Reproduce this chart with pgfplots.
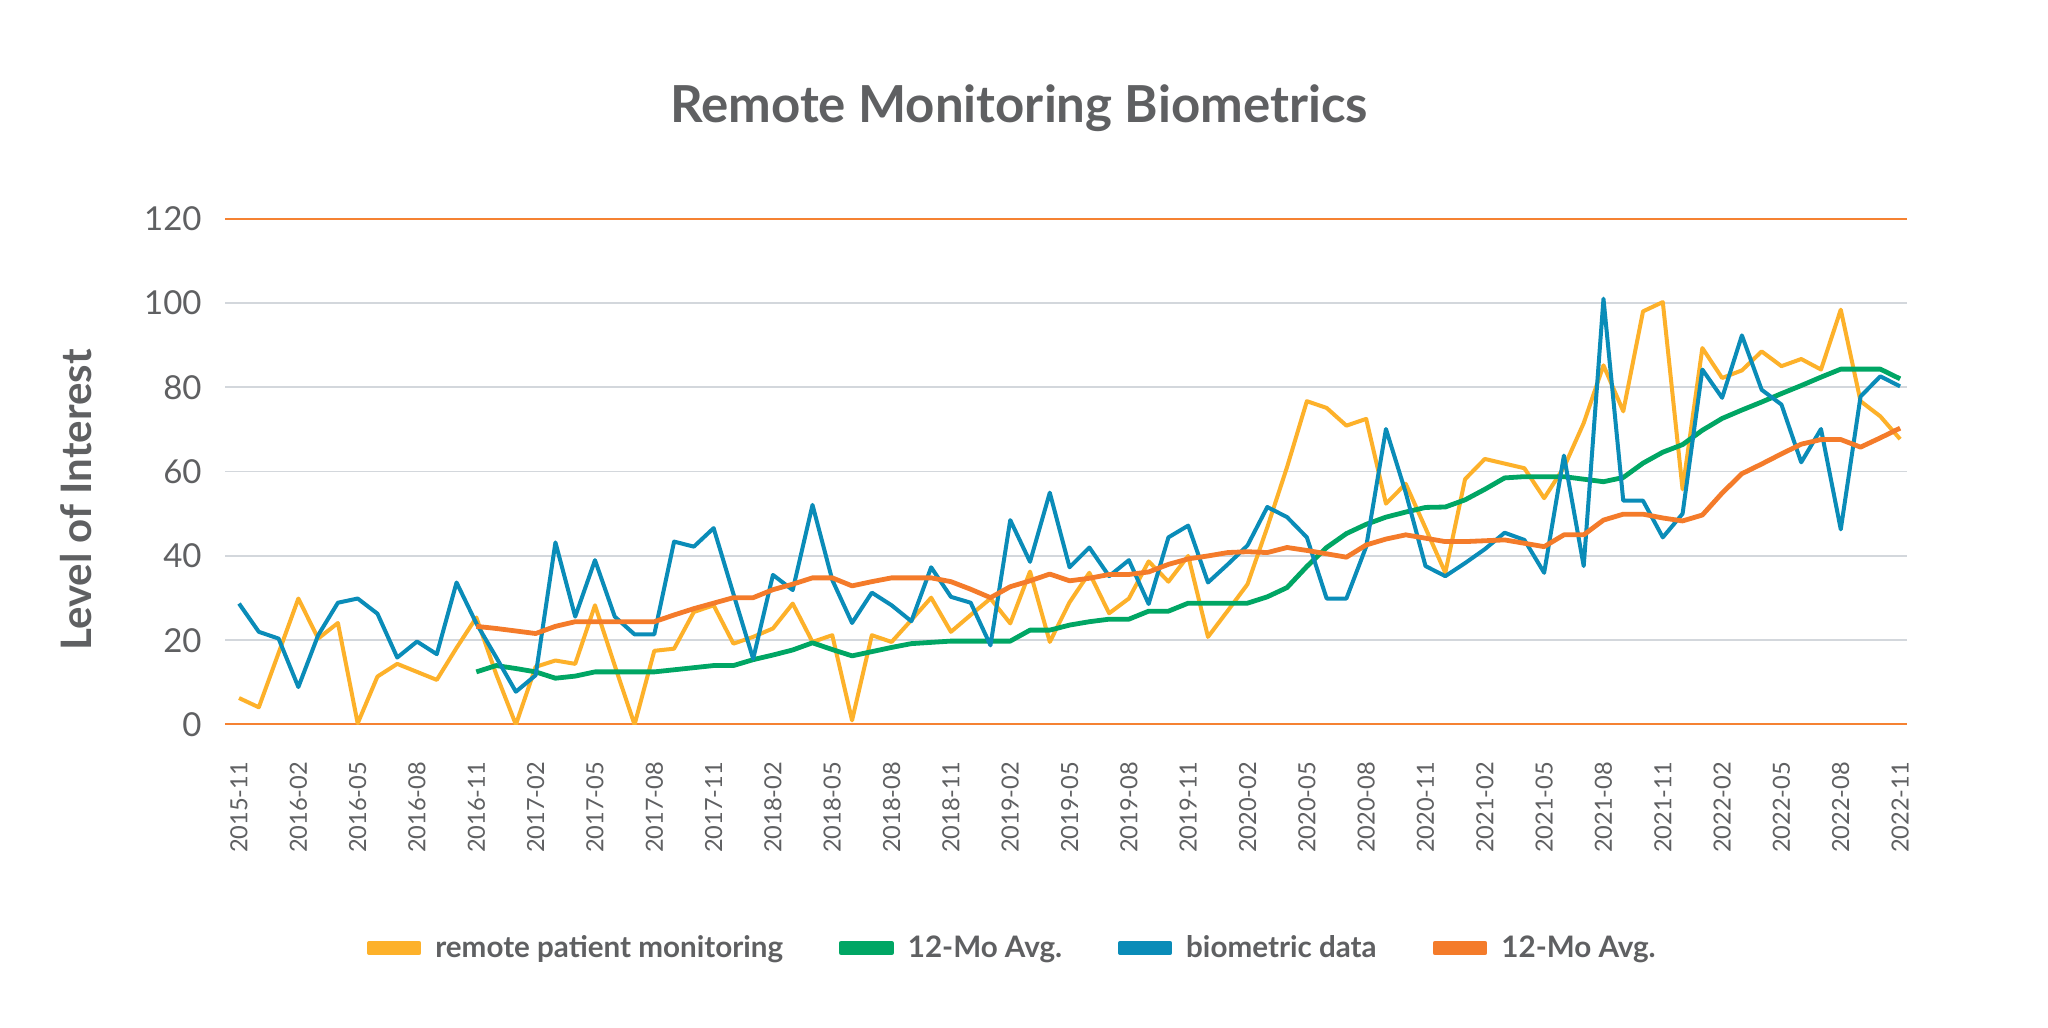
\documentclass[border=0pt]{standalone}
\usepackage{fontspec}
\setmainfont{Lato}
\usepackage{pgfplots}
\pgfplotsset{compat=1.18}

\definecolor{txt}{HTML}{5F6062}
\definecolor{gridc}{HTML}{D3D7DC}
\definecolor{edge}{HTML}{F58232}
\definecolor{yel}{HTML}{FDB12A}
\definecolor{grn}{HTML}{00A664}
\definecolor{blu}{HTML}{0A8CB8}
\definecolor{org}{HTML}{F47B2A}

\begin{document}
\begin{tikzpicture}
\fill[white, use as bounding box] (0pt,0pt) rectangle (1024pt,513.5pt);

\begin{axis}[
    at={(112.5pt,151.2pt)}, anchor=south west,
    scale only axis, width=841pt, height=253pt,
    xmin=-0.71, xmax=84.35, ymin=0, ymax=120,
    axis line style={draw=none},
    tick style={draw=none}, major tick length=0pt,
    ytick={0,20,...,120}, yticklabels={0,20,40,60,80,100,120},
    ymajorgrids, grid style={color=gridc, line width=0.8pt},
    xtick={0,3,...,84},
    xticklabels={2015-11,2016-02,2016-05,2016-08,2016-11,2017-02,2017-05,2017-08,2017-11,
      2018-02,2018-05,2018-08,2018-11,2019-02,2019-05,2019-08,2019-11,2020-02,2020-05,
      2020-08,2020-11,2021-02,2021-05,2021-08,2021-11,2022-02,2022-05,2022-08,2022-11},
    x tick label style={rotate=90, anchor=east, inner sep=0pt,
      font=\fontsize{11.8}{14}\selectfont, text=txt},
    xticklabel shift=18.5pt,
    y tick label style={anchor=east, inner sep=0pt,
      font=\fontsize{16.5}{20}\selectfont, text=txt},
    yticklabel shift=11.5pt,
    legend columns=4,
    legend style={at={(axis description cs:0.4676,-0.4415)}, anchor=center,
      draw=none, fill=none, inner sep=0pt, outer sep=0pt,
      font=\fontsize{14.8}{17}\selectfont\bfseries, text=txt,
      nodes={inner sep=0pt, anchor=west},
      /tikz/every odd column/.append style={column sep=7pt},
      /tikz/every even column/.append style={column sep=28pt}},
    legend image code/.code={\fill[#1] (0pt,-2.5pt) rectangle (25pt,2.5pt);},
    every axis plot/.append style={line join=round},
]
\draw[edge, line width=1.1pt] (rel axis cs:0,0) -- (rel axis cs:1,0);
\draw[edge, line width=1.1pt] (rel axis cs:0,1) -- (rel axis cs:1,1);

% remote patient monitoring
\addplot[color=yel, line width=2pt] table {
x y
0 6.3
1 4.1
2 17
3 29.9
4 20.4
5 24.1
6 0.3
7 11.4
8 14.4
9 12.5
10 10.6
11 18.2
12 25.4
13 12
14 0
15 13.7
16 15.2
17 14.4
18 28.3
19 14
20 0
21 17.5
22 18.0
23 26.7
24 28.3
25 19.2
26 20.8
27 22.8
28 28.7
29 19.6
30 21.2
31 1.0
32 21.2
33 19.6
34 24.8
35 30.1
36 22.0
37 26.0
38 29.9
39 24.0
40 36.3
41 19.6
42 29
43 36.0
44 26.4
45 29.9
46 38.7
47 33.9
48 40.0
49 20.8
50 27
51 33.3
52 46.8
53 61.1
54 76.7
55 75.1
56 70.9
57 72.5
58 52.4
59 57.1
60 46.6
61 36.0
62 58.2
63 63.0
64 61.9
65 60.8
66 53.7
67 61
68 71.5
69 85.2
70 74.3
71 98.0
72 100.2
73 55.8
74 89.3
75 82.2
76 84.0
77 88.5
78 85.0
79 86.7
80 84.2
81 98.4
82 76.7
83 73.1
84 67.7
};
\addlegendentry{remote patient monitoring}

% 12-month average of remote patient monitoring
\addplot[color=grn, line width=2.4pt] table {
x y
12 12.5
13 14.0
14 13.3
15 12.5
16 11.0
17 11.5
18 12.5
19 12.5
20 12.5
21 12.5
22 13.0
23 13.5
24 14.0
25 14.0
26 15.4
27 16.5
28 17.7
29 19.4
30 17.8
31 16.3
32 17.3
33 18.3
34 19.2
35 19.5
36 19.8
37 19.8
38 19.8
39 19.8
40 22.4
41 22.4
42 23.6
43 24.4
44 25.0
45 25.0
46 26.9
47 26.9
48 28.8
49 28.8
50 28.8
51 28.8
52 30.3
53 32.5
54 37.5
55 42.0
56 45.3
57 47.5
58 49.2
59 50.4
60 51.5
61 51.6
62 53.3
63 55.8
64 58.5
65 58.8
66 58.8
67 58.8
68 58.2
69 57.6
70 58.6
71 62.0
72 64.6
73 66.4
74 69.8
75 72.6
76 74.6
77 76.5
78 78.5
79 80.4
80 82.4
81 84.3
82 84.3
83 84.3
84 82.0
};
\addlegendentry{12-Mo Avg.}

% biometric data
\addplot[color=blu, line width=2pt] table {
x y
0 28.7
1 22.0
2 20.4
3 8.9
4 21.2
5 28.9
6 29.9
7 26.3
8 15.9
9 19.7
10 16.7
11 33.7
12 24
13 16
14 7.8
15 11.7
16 43.2
17 25.6
18 39.0
19 25.6
20 21.4
21 21.4
22 43.4
23 42.2
24 46.6
25 31
26 15.6
27 35.5
28 31.9
29 52.1
30 34.3
31 24.1
32 31.3
33 28.3
34 24.5
35 37.3
36 30.3
37 28.9
38 18.8
39 48.5
40 38.6
41 55.0
42 37.3
43 42.0
44 35.2
45 39.0
46 28.6
47 44.4
48 47.2
49 33.7
50 38.0
51 42.5
52 51.6
53 49.2
54 44.4
55 29.9
56 29.9
57 42.2
58 70.1
59 55.0
60 37.6
61 35.2
62 38.3
63 41.6
64 45.5
65 43.8
66 36.0
67 63.8
68 37.6
69 101.0
70 53.1
71 53.1
72 44.4
73 50.0
74 84.2
75 77.5
76 92.3
77 79.4
78 75.9
79 62.2
80 70.1
81 46.3
82 77.8
83 82.6
84 80.2
};
\addlegendentry{biometric data}

% 12-month average of biometric data
\addplot[color=org, line width=2.4pt] table {
x y
12 23.3
13 22.8
14 22.2
15 21.6
16 23.3
17 24.4
18 24.4
19 24.4
20 24.4
21 24.4
22 26.0
23 27.5
24 28.8
25 30.1
26 30.1
27 32.0
28 33.3
29 34.8
30 34.8
31 32.9
32 33.9
33 34.8
34 34.8
35 34.8
36 33.9
37 32.1
38 30.1
39 32.7
40 34.1
41 35.7
42 34.1
43 34.7
44 35.6
45 35.6
46 36.2
47 38.0
48 39.3
49 40.0
50 40.8
51 41.0
52 40.8
53 42.0
54 41.3
55 40.5
56 39.7
57 42.6
58 44.0
59 45.0
60 44.2
61 43.4
62 43.4
63 43.6
64 43.8
65 43.0
66 42.2
67 45.0
68 45.0
69 48.5
70 49.9
71 49.9
72 49.0
73 48.3
74 49.7
75 54.9
76 59.5
77 61.8
78 64.2
79 66.5
80 67.6
81 67.6
82 65.8
83 68.0
84 70.3
};
\addlegendentry{12-Mo Avg.}
\end{axis}

\node[anchor=base, text=txt, font=\fontsize{25.5}{30}\selectfont\bfseries]
  at (509.5pt,452pt) {Remote Monitoring Biometrics};
\node[rotate=90, text=txt, font=\fontsize{21}{25}\selectfont\bfseries]
  at (38pt,263.5pt) {Level of Interest};
\end{tikzpicture}
\end{document}
